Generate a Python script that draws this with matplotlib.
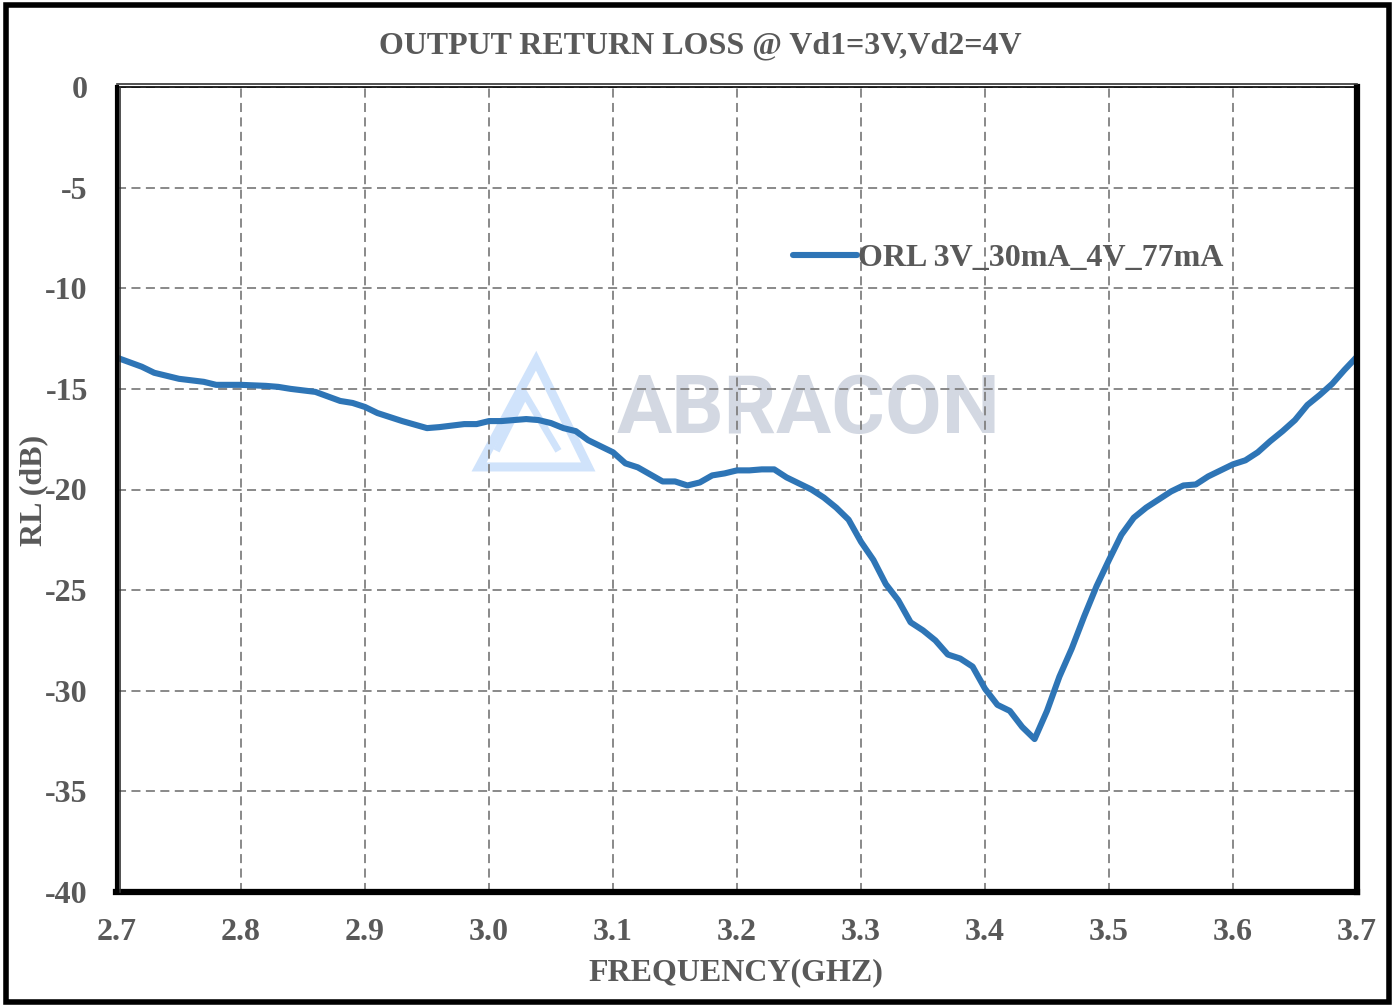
import matplotlib
matplotlib.use("Agg")
import matplotlib.pyplot as plt
from matplotlib.patches import Rectangle, Polygon
from matplotlib.lines import Line2D
import numpy as np

# ---- data ----
freq_ghz = [2.70, 2.72, 2.73, 2.75, 2.77, 2.78, 2.80, 2.82, 2.83, 2.84, 2.86, 2.88, 2.89,
            2.90, 2.91, 2.93, 2.95, 2.96, 2.98, 2.99, 3.00, 3.01, 3.03, 3.04, 3.05, 3.06,
            3.07, 3.08, 3.10, 3.11, 3.12, 3.14, 3.15, 3.16, 3.17, 3.18, 3.19, 3.20, 3.21,
            3.22, 3.23, 3.24, 3.25, 3.26, 3.27, 3.28, 3.29, 3.30, 3.31, 3.32, 3.33, 3.34,
            3.35, 3.36, 3.37, 3.38, 3.39, 3.40, 3.41, 3.42, 3.43, 3.44, 3.45, 3.46, 3.47,
            3.48, 3.49, 3.50, 3.51, 3.52, 3.53, 3.54, 3.55, 3.56, 3.57, 3.58, 3.59, 3.60,
            3.61, 3.62, 3.63, 3.64, 3.65, 3.66, 3.67, 3.68, 3.69, 3.70]
rl_db = [-13.45, -13.9, -14.2, -14.5, -14.65, -14.8, -14.8, -14.85, -14.9, -15.0, -15.15,
         -15.6, -15.7, -15.9, -16.2, -16.6, -16.95, -16.9, -16.75, -16.75, -16.6, -16.6,
         -16.5, -16.55, -16.7, -16.95, -17.1, -17.55, -18.15, -18.7, -18.9, -19.6, -19.6,
         -19.8, -19.65, -19.3, -19.2, -19.05, -19.05, -19.0, -19.0, -19.4, -19.7, -20.0,
         -20.4, -20.9, -21.5, -22.6, -23.5, -24.7, -25.5, -26.6, -27.0, -27.5, -28.2,
         -28.4, -28.8, -29.9, -30.7, -31.0, -31.8, -32.4, -31.0, -29.3, -27.9, -26.3,
         -24.8, -23.5, -22.25, -21.4, -20.9, -20.5, -20.1, -19.8, -19.75, -19.35, -19.05,
         -18.75, -18.55, -18.15, -17.6, -17.1, -16.55, -15.8, -15.3, -14.75, -14.05, -13.4]
x_ticks = [2.7, 2.8, 2.9, 3.0, 3.1, 3.2, 3.3, 3.4, 3.5, 3.6, 3.7]
x_tick_labels = ["2.7", "2.8", "2.9", "3.0", "3.1", "3.2", "3.3", "3.4", "3.5", "3.6", "3.7"]
y_ticks = [0, -5, -10, -15, -20, -25, -30, -35, -40]
y_tick_labels = ["0", "-5", "-10", "-15", "-20", "-25", "-30", "-35", "-40"]
series_label = "ORL 3V_30mA_4V_77mA"
title = "OUTPUT RETURN LOSS @ Vd1=3V,Vd2=4V"
x_label = "FREQUENCY(GHZ)"
y_label = "RL (dB)"

TXT = "#595959"
LINE = "#2E75B6"
serif = ["Liberation Serif", "DejaVu Serif"]
FS = 23

fig = plt.figure(figsize=(13.95, 10.06), dpi=100)
ax = fig.add_axes([117/1395, 1 - 892/1006, 1240/1395, 805/1006])

ax.set_xlim(2.7, 3.7)
ax.set_ylim(-40, 0)
ax.set_xticks(x_ticks)
ax.set_xticklabels(x_tick_labels)
ax.set_yticks(y_ticks)
ax.set_yticklabels(y_tick_labels)
ax.tick_params(length=0)
for lab in ax.get_xticklabels() + ax.get_yticklabels():
    lab.set_fontfamily(serif)
    lab.set_fontweight("bold")
    lab.set_fontsize(FS)
    lab.set_color(TXT)
ax.tick_params(axis="x", pad=19)
ax.tick_params(axis="y", pad=21)

ax.grid(True, color="#808080", linestyle=(0, (5, 3)), linewidth=1.3, zorder=1)
ax.set_axisbelow(True)

# watermark
ax.text(0.558, 0.597, "ABRACON", transform=ax.transAxes, ha="center", va="center",
        fontsize=59, fontweight="bold", family=["Roboto", "DejaVu Sans"],
        color="#D3D8E2", zorder=0.5)
outer = Polygon([(0.292, 0.528), (0.338, 0.660), (0.380, 0.528)], closed=True, fill=False,
                edgecolor="#D0E3FB", linewidth=6.5, transform=ax.transAxes, zorder=0.5,
                joinstyle="miter")
inner = Polygon([(0.306, 0.548), (0.329, 0.618), (0.356, 0.548)], closed=False, fill=False,
                edgecolor="#D0E3FB", linewidth=5, transform=ax.transAxes, zorder=0.5)
ax.add_patch(outer)
ax.add_patch(inner)

ax.plot(freq_ghz, rl_db, color=LINE, linewidth=4.4, solid_capstyle="round",
        solid_joinstyle="round", label=series_label, zorder=3)

leg = ax.legend(loc="center left", bbox_to_anchor=(0.545, 0.787), frameon=False,
                handlelength=2.0, handletextpad=0.05, borderaxespad=0, borderpad=0,
                prop={"family": serif, "weight": "bold", "size": FS})
for t in leg.get_texts():
    t.set_color(TXT)

for s in ax.spines.values():
    s.set_color("black")
    s.set_linewidth(1.2)
# heavier frame on left, bottom, right
ax.add_line(Line2D([0, 0], [0, 1], transform=ax.transAxes, color="black", lw=3,
                   clip_on=False, zorder=5))
ax.add_line(Line2D([-0.001, 1.0], [0, 0], transform=ax.transAxes, color="black", lw=4.5,
                   clip_on=False, zorder=5))
ax.add_line(Line2D([1.0, 1.0], [0, 1.0], transform=ax.transAxes, color="black", lw=4.5,
                   clip_on=False, zorder=5))
ax.add_line(Line2D([0.0, 1.0], [1.004, 1.004], transform=ax.transAxes, color="#333333", lw=1.2,
                   clip_on=False, zorder=5))
ax.add_line(Line2D([0.0025, 0.0025], [0, 1], transform=ax.transAxes, color="#333333", lw=1.2,
                   clip_on=False, zorder=5))

fig.text(700/1395, 1 - 46/1006, title, ha="center", va="center", family=serif,
         fontweight="bold", fontsize=FS, color=TXT)
fig.text(736/1395, 1 - 973/1006, x_label, ha="center", va="center", family=serif,
         fontweight="bold", fontsize=FS, color=TXT)
fig.text(34/1395, 1 - 490/1006, y_label, ha="center", va="center", rotation=90,
         family=serif, fontweight="bold", fontsize=FS, color=TXT)

fig.patches.append(Rectangle((0.004, 0.004), 0.992, 0.991, transform=fig.transFigure,
                             fill=False, edgecolor="black", linewidth=4))

fig.savefig("out.png", dpi=100)
